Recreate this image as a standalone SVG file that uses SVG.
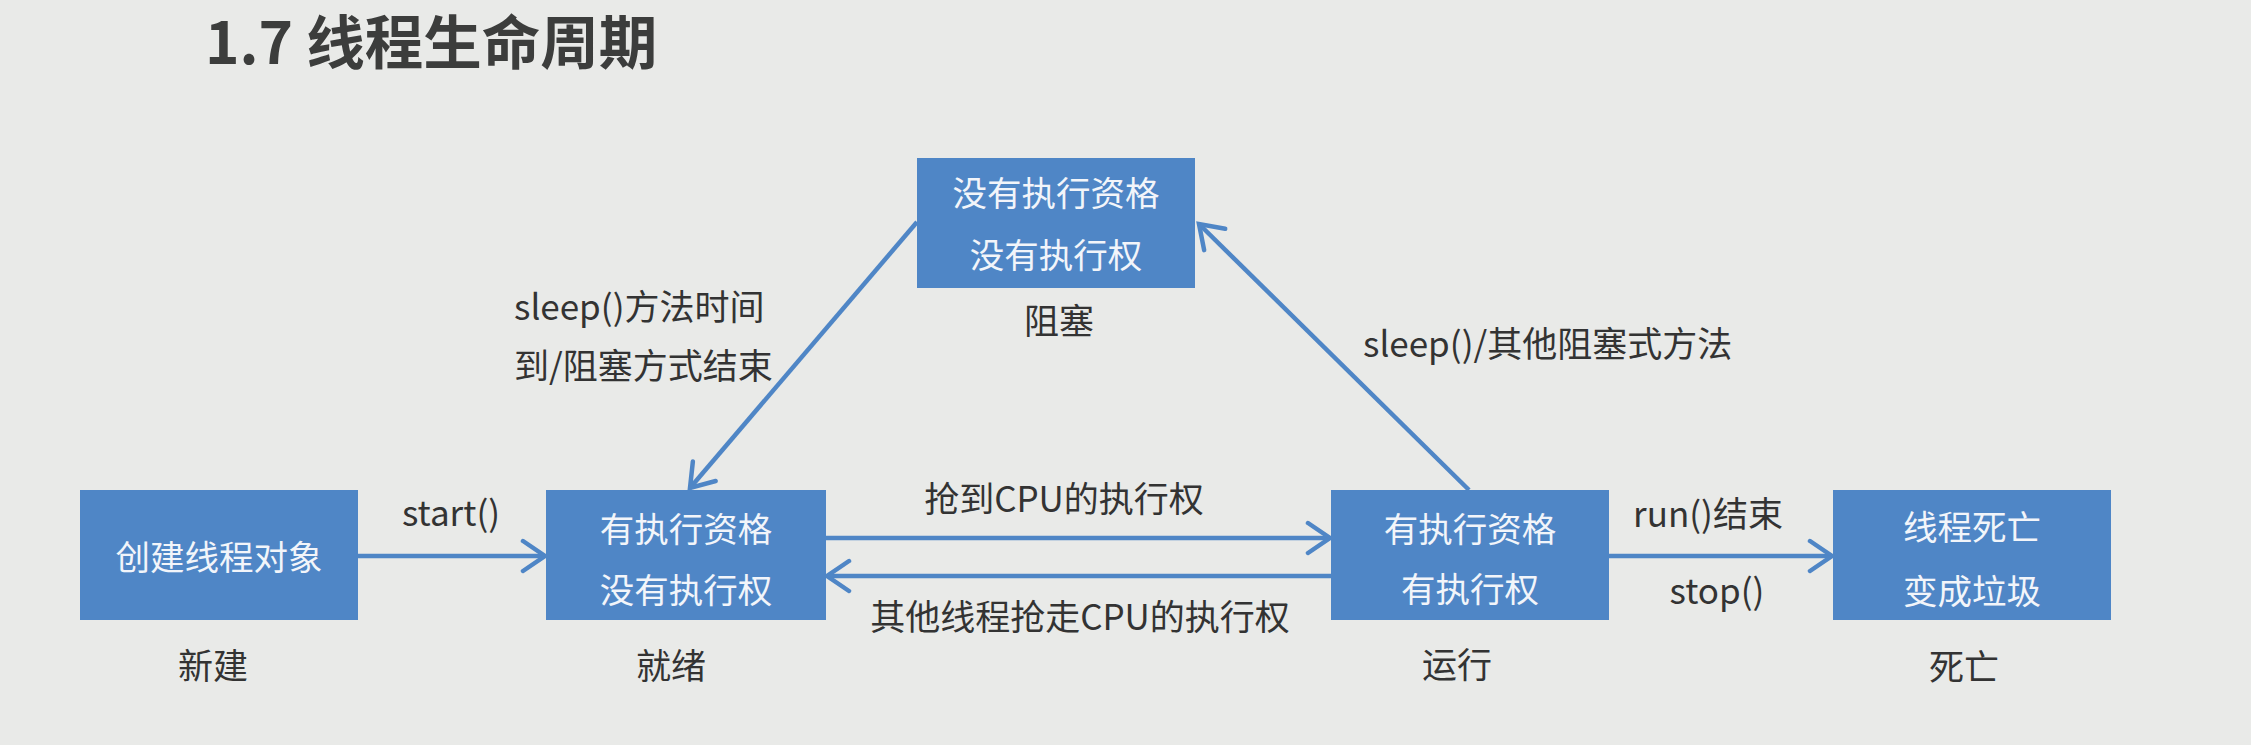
<svg xmlns="http://www.w3.org/2000/svg" width="2251" height="745" viewBox="0 0 2251 745">
<defs>
<style>
.bg{fill:#e9eae8}
.box{fill:#4f86c6}
.bt{font-family:"Microsoft YaHei","Noto Sans CJK SC","Noto Sans",sans-serif;font-size:34.5px;fill:#f2f5fa;text-anchor:middle}
.lb{font-family:"Microsoft YaHei","Noto Sans CJK SC","Noto Sans",sans-serif;font-size:35px;fill:#333333}
.mid{text-anchor:middle}
.title{font-family:"Microsoft YaHei","Noto Sans CJK SC","Noto Sans",sans-serif;font-size:58.5px;font-weight:bold;fill:#3c3d3c}
.edge{stroke:#4f86c6;stroke-width:4.5;fill:none}
</style>
<marker id="arr" markerUnits="userSpaceOnUse" markerWidth="30" markerHeight="36" viewBox="0 0 30 36" refX="26" refY="18" orient="auto">
<path d="M4,3 L26,18 L4,33" fill="none" stroke="#4f86c6" stroke-width="4.5" stroke-linecap="round" stroke-linejoin="miter"/>
</marker>
</defs>
<rect class="bg" x="0" y="0" width="2251" height="745"/>
<text class="title" x="205" y="64">1.7 线程生命周期</text>

<g id="connectors">
<line class="edge" x1="358" y1="556" x2="545" y2="556" marker-end="url(#arr)"/>
<line class="edge" x1="826" y1="538" x2="1330" y2="538" marker-end="url(#arr)"/>
<line class="edge" x1="1331" y1="576" x2="827" y2="576" marker-end="url(#arr)"/>
<line class="edge" x1="1609" y1="556" x2="1832" y2="556" marker-end="url(#arr)"/>
<line class="edge" x1="917" y1="222" x2="690" y2="488" marker-end="url(#arr)"/>
<line class="edge" x1="1469" y1="490" x2="1199" y2="224" marker-end="url(#arr)"/>
<text class="lb mid" x="451" y="526">start()</text>
<text class="lb mid" x="1064" y="512">抢到CPU的执行权</text>
<text class="lb mid" x="1080" y="630">其他线程抢走CPU的执行权</text>
<text class="lb mid" x="1708" y="527">run()结束</text>
<text class="lb mid" x="1717" y="604">stop()</text>
<text class="lb" x="1363" y="357">sleep()/其他阻塞式方法</text>
<text class="lb" x="514" y="320">sleep()方法时间</text>
<text class="lb" x="514" y="379">到/阻塞方式结束</text>
</g>

<g id="node-new">
<rect class="box" x="80" y="490" width="278" height="130"/>
<text class="bt" x="219" y="570">创建线程对象</text>
<text class="lb mid" x="213" y="679">新建</text>
</g>

<g id="node-ready">
<rect class="box" x="546" y="490" width="280" height="130"/>
<text class="bt" x="686" y="542">有执行资格</text>
<text class="bt" x="686" y="603">没有执行权</text>
<text class="lb mid" x="671" y="679">就绪</text>
</g>

<g id="node-blocked">
<rect class="box" x="917" y="158" width="278" height="130"/>
<text class="bt" x="1056" y="206">没有执行资格</text>
<text class="bt" x="1056" y="268">没有执行权</text>
<text class="lb mid" x="1059" y="334">阻塞</text>
</g>

<g id="node-running">
<rect class="box" x="1331" y="490" width="278" height="130"/>
<text class="bt" x="1470" y="542">有执行资格</text>
<text class="bt" x="1470" y="602">有执行权</text>
<text class="lb mid" x="1457" y="678">运行</text>
</g>

<g id="node-dead">
<rect class="box" x="1833" y="490" width="278" height="130"/>
<text class="bt" x="1972" y="540">线程死亡</text>
<text class="bt" x="1972" y="604">变成垃圾</text>
<text class="lb mid" x="1964" y="680">死亡</text>
</g>
</svg>
